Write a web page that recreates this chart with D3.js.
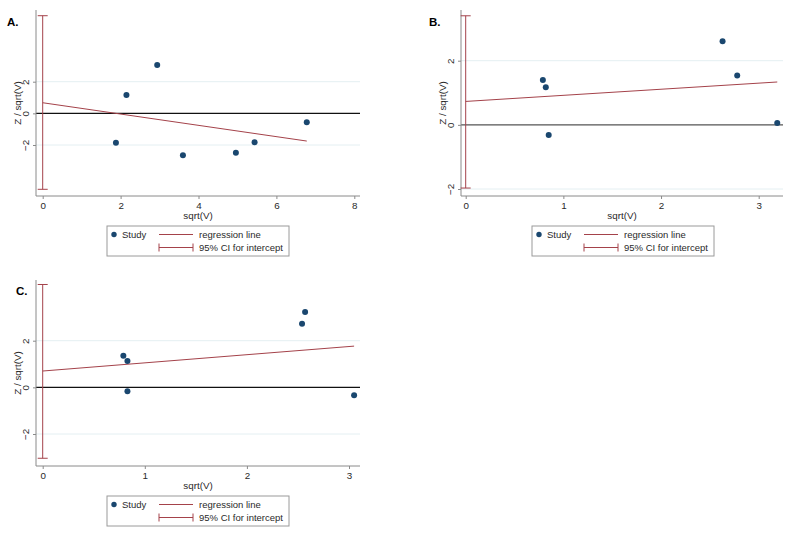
<!DOCTYPE html>
<html>
<head>
<meta charset="utf-8">
<script src="https://cdn.jsdelivr.net/npm/d3@7"></script>
<style>
  html, body { margin: 0; padding: 0; background: #fff; }
  svg { display: block; font-family: "Liberation Sans", Arial, sans-serif; }
</style>
</head>
<body>
<svg id="chart" width="793" height="538"></svg>
<script>
// ---------- DATA ----------
const panelLabels = ["A.", "B.", "C."];

const aX = [1.88, 2.15, 2.94, 3.60, 4.96, 5.44, 6.78];
const aY = [-1.86, 1.16, 3.05, -2.65, -2.49, -1.83, -0.57];
const aIntercept = 0.67, aSlope = -0.357, aCI = [-4.80, 6.17];
const aXTicks = [0, 2, 4, 6, 8];
const aYTicks = [-2, 0, 2];

const bX = [0.79, 0.82, 0.85, 2.63, 2.78, 3.19];
const bY = [1.40, 1.17, -0.32, 2.61, 1.54, 0.06];
const bIntercept = 0.73, bSlope = 0.19, bCI = [-1.97, 3.40];
const bXTicks = [0, 1, 2, 3];
const bYTicks = [-2, 0, 2];

const cX = [0.79, 0.83, 0.83, 2.54, 2.57, 3.05];
const cY = [1.35, 1.13, -0.17, 2.73, 3.23, -0.34];
const cIntercept = 0.70, cSlope = 0.35, cCI = [-3.04, 4.41];
const cXTicks = [0, 1, 2, 3];
const cYTicks = [-2, 0, 2];

const legendLabels = ["Study", "regression line", "95% CI for intercept"];
const xTitle = "sqrt(V)";
const yTitle = "Z / sqrt(V)";

// ---------- STYLE ----------
const dotColor = "#1a476f";
const redColor = "#a4424a";
const axisColor = "#8a8a8a";
const textColor = "#2a2a2a";
const gridColor = "#e4eff2";

const svg = d3.select("#chart");

function drawPanel(cfg) {
  const g = svg.append("g");
  const x = d3.scaleLinear().domain(cfg.xDom).range(cfg.xRange);
  const y = d3.scaleLinear().domain(cfg.yDom).range(cfg.yRange);
  const L = cfg.axisLeft, R = cfg.axisRight, T = cfg.axisTop, B = cfg.axisBottom;

  // grid lines at non-zero y ticks
  g.selectAll(".grid").data(cfg.yTicks.filter(d => d !== 0)).enter().append("line")
    .attr("x1", L).attr("x2", R)
    .attr("y1", d => y(d)).attr("y2", d => y(d))
    .attr("stroke", gridColor).attr("stroke-width", 1);

  // zero line
  g.append("line").attr("x1", L).attr("x2", R)
    .attr("y1", y(0)).attr("y2", y(0))
    .attr("stroke", cfg.zeroColor).attr("stroke-width", 1.2);

  // axes
  const xAxis = d3.axisBottom(x).tickValues(cfg.xTicks).tickSize(3).tickPadding(3).tickFormat(d3.format("d"));
  const gx = g.append("g").attr("transform", `translate(0,${B})`).call(xAxis);
  gx.select(".domain").remove();
  gx.append("line").attr("x1", L).attr("x2", R).attr("y1", 0).attr("y2", 0).attr("stroke", axisColor);
  gx.selectAll(".tick line").attr("stroke", axisColor);
  gx.selectAll(".tick text").attr("fill", textColor).attr("font-size", 9.8)
    .attr("font-family", "Liberation Sans, Arial, sans-serif");

  const yAxis = d3.axisLeft(y).tickValues(cfg.yTicks).tickSize(3).tickPadding(3).tickFormat(d3.format("d"));
  const gy = g.append("g").attr("transform", `translate(${L},0)`).call(yAxis);
  gy.select(".domain").remove();
  gy.append("line").attr("x1", 0).attr("x2", 0).attr("y1", T).attr("y2", B).attr("stroke", axisColor);
  gy.selectAll(".tick line").attr("stroke", axisColor);
  gy.selectAll(".tick text").attr("fill", textColor).attr("font-size", 9.8)
    .attr("font-family", "Liberation Sans, Arial, sans-serif")
    .attr("text-anchor", "middle").attr("dy", null)
    .attr("transform", "translate(-10,0) rotate(-90)")
    .attr("x", 0).attr("y", 3);

  // axis titles
  g.append("text").attr("x", (L + R) / 2).attr("y", B + 23)
    .attr("text-anchor", "middle").attr("font-size", 9.8).attr("fill", textColor).text(xTitle);
  g.append("text").attr("transform", `translate(${L - 15},${(T + B) / 2}) rotate(-90)`)
    .attr("text-anchor", "middle").attr("font-size", 9.8).attr("fill", textColor).text(yTitle);

  // CI bar at x = 0
  const cx0 = x(0);
  g.append("line").attr("x1", cx0).attr("x2", cx0).attr("y1", y(cfg.ci[0])).attr("y2", y(cfg.ci[1]))
    .attr("stroke", redColor).attr("stroke-width", 1);
  cfg.ci.forEach(v => {
    g.append("line").attr("x1", cx0 - 5).attr("x2", cx0 + 5).attr("y1", y(v)).attr("y2", y(v))
      .attr("stroke", redColor).attr("stroke-width", 1);
  });

  // regression line
  const xMax = d3.max(cfg.xs);
  g.append("line").attr("x1", x(0)).attr("x2", x(xMax))
    .attr("y1", y(cfg.intercept)).attr("y2", y(cfg.intercept + cfg.slope * xMax))
    .attr("stroke", redColor).attr("stroke-width", 1);

  // points
  g.selectAll(".pt").data(cfg.xs.map((d, i) => [d, cfg.ys[i]])).enter().append("circle")
    .attr("cx", d => x(d[0])).attr("cy", d => y(d[1])).attr("r", 3).attr("fill", dotColor);

  // panel label
  g.append("text").attr("x", cfg.labelX).attr("y", cfg.labelY)
    .attr("font-size", 11.5).attr("font-weight", "bold").attr("fill", "#000").text(cfg.label);

  // legend
  const lx = L + 71, ly = B + 30;
  const lg = g.append("g").attr("transform", `translate(${lx},${ly})`);
  lg.append("rect").attr("x", 0).attr("y", 0).attr("width", 182).attr("height", 30)
    .attr("fill", "#fff").attr("stroke", "#9a9a9a").attr("stroke-width", 1);
  lg.append("circle").attr("cx", 7).attr("cy", 8.5).attr("r", 2.7).attr("fill", dotColor);
  lg.append("text").attr("x", 15).attr("y", 12).attr("font-size", 9.5).attr("fill", textColor).text(legendLabels[0]);
  lg.append("line").attr("x1", 52).attr("x2", 86).attr("y1", 8.5).attr("y2", 8.5).attr("stroke", redColor);
  lg.append("text").attr("x", 92).attr("y", 12).attr("font-size", 9.5).attr("fill", textColor).text(legendLabels[1]);
  lg.append("line").attr("x1", 52).attr("x2", 86).attr("y1", 21.5).attr("y2", 21.5).attr("stroke", redColor);
  lg.append("line").attr("x1", 52).attr("x2", 52).attr("y1", 17.5).attr("y2", 25.5).attr("stroke", redColor);
  lg.append("line").attr("x1", 86).attr("x2", 86).attr("y1", 17.5).attr("y2", 25.5).attr("stroke", redColor);
  lg.append("text").attr("x", 92).attr("y", 25).attr("font-size", 9.5).attr("fill", textColor).text(legendLabels[2]);
}

drawPanel({
  label: panelLabels[0], labelX: 7, labelY: 26,
  xs: aX, ys: aY, intercept: aIntercept, slope: aSlope, ci: aCI,
  xTicks: aXTicks, yTicks: aYTicks,
  xDom: [0, 8], xRange: [42.7, 354.3],
  yDom: [-2, 2], yRange: [145, 81.7],
  axisLeft: 36, axisRight: 360, axisTop: 10, axisBottom: 196,
  zeroColor: "#111"
});

drawPanel({
  label: panelLabels[1], labelX: 429, labelY: 26,
  xs: bX, ys: bY, intercept: bIntercept, slope: bSlope, ci: bCI,
  xTicks: bXTicks, yTicks: bYTicks,
  xDom: [0, 3], xRange: [465.7, 758.7],
  yDom: [-2, 2], yRange: [189, 60.7],
  axisLeft: 461, axisRight: 783, axisTop: 10, axisBottom: 196,
  zeroColor: "#555"
});

drawPanel({
  label: panelLabels[2], labelX: 16, labelY: 295,
  xs: cX, ys: cY, intercept: cIntercept, slope: cSlope, ci: cCI,
  xTicks: cXTicks, yTicks: cYTicks,
  xDom: [0, 3], xRange: [42.7, 349],
  yDom: [-2, 2], yRange: [434, 340.7],
  axisLeft: 36, axisRight: 360, axisTop: 280, axisBottom: 466,
  zeroColor: "#111"
});
</script>
</body>
</html>
